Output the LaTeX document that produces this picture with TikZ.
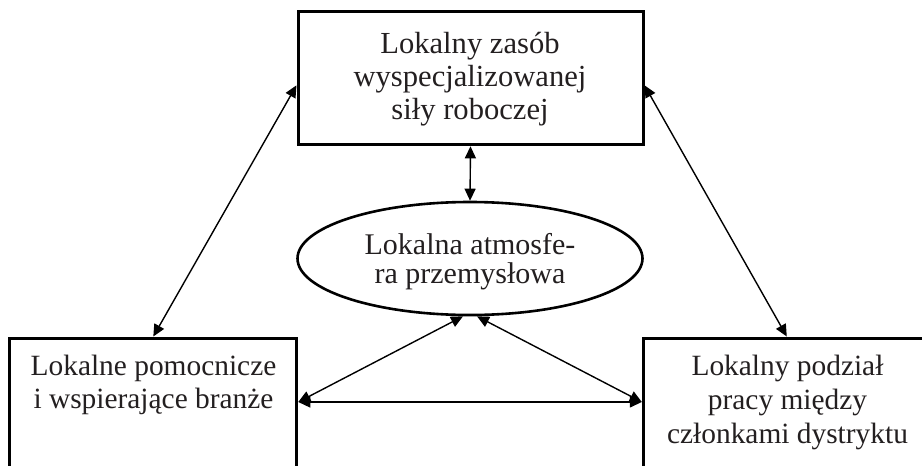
\documentclass[tikz,border=0pt]{standalone}
\usepackage{fontspec}
\setmainfont{Liberation Serif}
\usetikzlibrary{shapes.geometric,arrows.meta}
\definecolor{ink}{RGB}{35,31,32}
\begin{document}
\begin{tikzpicture}[x=1pt,y=-1pt,
  box/.style={draw=black,line width=3pt,rectangle,minimum width=345pt,minimum height=133pt,inner sep=0pt},
  oval/.style={draw=black,line width=2.6pt,ellipse,minimum width=345pt,minimum height=113pt,inner sep=0pt},
  txt/.style={anchor=base,inner sep=0pt,text=ink,font=\fontsize{29.4}{33}\selectfont},
  bigtxt/.style={txt,font=\fontsize{30.6}{34}\selectfont},
  link/.style={line width=1.4pt,{Triangle[length=12pt,width=11pt]}-{Triangle[length=12pt,width=11pt]}}]
\useasboundingbox (0,0) rectangle (922,466);

% shapes
\node[box] (top) at (470.5,78.3) {};
\node[oval] (atm) at (470,258.5) {};
\node[box,minimum width=287pt] (aux) at (153.3,404.5) {};
\node[box,minimum width=287pt] (div) at (786.8,404.5) {};

% labels
\node[bigtxt] (top1) at (470,53) {Lokalny zasób};
\node[bigtxt] (top2) at (470,86) {wyspecjalizowanej};
\node[bigtxt] (top3) at (470,119) {siły roboczej};

\node[txt,font=\fontsize{30}{33}\selectfont] (atm1) at (470,254) {Lokalna atmosfe-};
\node[txt,font=\fontsize{30}{33}\selectfont] (atm2) at (470,283) {ra przemysłowa};

\node[txt] (aux1) at (153.5,375) {Lokalne pomocnicze};
\node[txt] (aux2) at (153.5,408) {i wspierające branże};

\node[txt] (div1) at (787.5,375) {Lokalny podział};
\node[txt] (div2) at (787.5,409) {pracy między};
\node[txt] (div3) at (787.5,443) {członkami dystryktu};

% connectors
\draw[link] ([yshift=-7pt]top.west) -- (aux.north);
\draw[link] ([yshift=-7pt]top.east) -- (div.north);
\draw[link] (top.south) -- (atm.north);
\draw[link] ([xshift=-7pt]atm.south) -- ([yshift=2.5pt]aux.east);
\draw[link] ([xshift=7pt]atm.south) -- ([yshift=2.5pt]div.west);
\draw[link] ([yshift=2.5pt]aux.east) -- ([yshift=2.5pt]div.west);
\end{tikzpicture}
\end{document}
